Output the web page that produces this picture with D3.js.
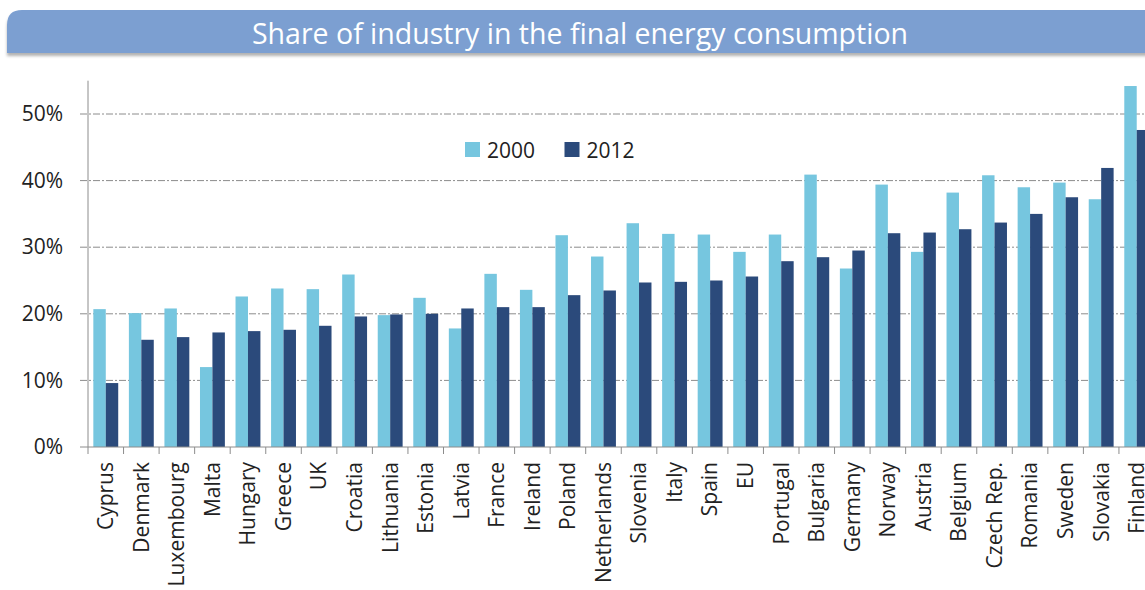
<!DOCTYPE html>
<html>
<head>
<meta charset="utf-8">
<script src="https://cdn.jsdelivr.net/npm/d3@7"></script>
<style>
  body { margin: 0; background: #fff; overflow: hidden; }
  text { font-family: "Open Sans", sans-serif; }
</style>
</head>
<body>
<script>
// countries, sorted by 2012 share
var countries = ["Cyprus", "Denmark", "Luxembourg", "Malta", "Hungary", "Greece", "UK", "Croatia",
  "Lithuania", "Estonia", "Latvia", "France", "Ireland", "Poland", "Netherlands", "Slovenia",
  "Italy", "Spain", "EU", "Portugal", "Bulgaria", "Germany", "Norway", "Austria", "Belgium",
  "Czech Rep.", "Romania", "Sweden", "Slovakia", "Finland"];

var years = ["2000", "2012"];

var share2000 = [20.7, 20.1, 20.8, 12.0, 22.6, 23.8, 23.7, 25.9, 19.8, 22.4, 17.8, 26.0, 23.6, 31.8,
  28.6, 33.6, 32.0, 31.9, 29.3, 31.9, 40.9, 26.8, 39.4, 29.3, 38.2, 40.8, 39.0, 39.7, 37.2, 54.2];

var share2012 = [9.6, 16.1, 16.5, 17.2, 17.4, 17.6, 18.2, 19.6, 19.9, 20.0, 20.8, 21.0, 21.0, 22.8,
  23.5, 24.7, 24.8, 25.0, 25.6, 27.9, 28.5, 29.5, 32.1, 32.2, 32.7, 33.7, 35.0, 37.5, 41.9, 47.6];

var yTicks = [0, 10, 20, 30, 40, 50];

var colors = ["#76c6df", "#2b4a7b"];

var width = 1145, height = 590;

var svg = d3.select("body").append("svg")
  .attr("width", width)
  .attr("height", height);

// title banner
var defs = svg.append("defs");
var f = defs.append("filter").attr("id", "shadow").attr("x", "-5%").attr("y", "-20%")
  .attr("width", "110%").attr("height", "160%");
f.append("feDropShadow").attr("dx", 0).attr("dy", 3).attr("stdDeviation", 1.5)
  .attr("flood-color", "#000").attr("flood-opacity", 0.3);

var bx = 7, by = 10, bw = 1150, bh = 43, r = 15;
svg.append("path")
  .attr("d", "M" + bx + "," + (by + bh) + "V" + (by + r) +
    "Q" + bx + "," + by + " " + (bx + r) + "," + by + "H" + (bx + bw) + "V" + (by + bh) + "Z")
  .attr("fill", "#7b9fd1")
  .attr("filter", "url(#shadow)");

svg.append("text")
  .attr("x", 580).attr("y", 44)
  .attr("text-anchor", "middle")
  .attr("fill", "#fff")
  .style("font-size", "28.5px")
  .text("Share of industry in the final energy consumption");

// scales
var x = d3.scaleBand().domain(countries).range([88, 88 + 30 * 35.55]).padding(0);
var xIn = d3.scaleBand().domain(years).range([x.bandwidth() * 0.15, x.bandwidth() * 0.85]);
var y = d3.scaleLinear().domain([0, 55]).range([447, 80.7]);

// gridlines
svg.append("g").selectAll("line")
  .data(yTicks.filter(function(d) { return d > 0; }))
  .join("line")
  .attr("x1", 80).attr("x2", width)
  .attr("y1", function(d) { return y(d); })
  .attr("y2", function(d) { return y(d); })
  .attr("stroke", "#8c8c8c")
  .attr("stroke-dasharray", "7,2,2,2");

// bars
var rows = countries.map(function(c, i) { return { c: c, v: [share2000[i], share2012[i]] }; });

var groups = svg.append("g").selectAll("g")
  .data(rows)
  .join("g")
  .attr("transform", function(d) { return "translate(" + x(d.c) + ",0)"; });

groups.selectAll("rect")
  .data(function(d) { return d.v.map(function(v, k) { return { yr: years[k], v: v, k: k }; }); })
  .join("rect")
  .attr("x", function(d) { return xIn(d.yr); })
  .attr("width", xIn.bandwidth())
  .attr("y", function(d) { return y(d.v); })
  .attr("height", function(d) { return y(0) - y(d.v); })
  .attr("fill", function(d) { return colors[d.k]; });

// y axis
var yAxis = svg.append("g")
  .attr("transform", "translate(88,0)")
  .call(d3.axisLeft(y).tickValues(yTicks).tickFormat(function(d) { return d + "%"; })
    .tickSize(8).tickPadding(17));
yAxis.select(".domain").attr("stroke", "#8c8c8c").attr("d", "M0," + y(55) + "V" + y(0));
yAxis.selectAll(".tick line").attr("stroke", "none");
yAxis.selectAll(".tick text").style("font-size", "21px").attr("fill", "#222");

// x axis
var xAxis = svg.append("g")
  .attr("transform", "translate(0," + y(0) + ")")
  .call(d3.axisBottom(x).tickSize(0).tickPadding(0));
xAxis.select(".domain").attr("stroke", "#8c8c8c").attr("d", "M80,0H" + width);
xAxis.selectAll(".tick text")
  .style("font-size", "21px")
  .attr("fill", "#222")
  .attr("transform", "rotate(-90)")
  .attr("text-anchor", "end")
  .attr("x", -15)
  .attr("y", 0)
  .attr("dy", "0.35em");

// boundary ticks between categories
svg.append("g").selectAll("line")
  .data(countries)
  .join("line")
  .attr("x1", function(d) { return x(d); })
  .attr("x2", function(d) { return x(d); })
  .attr("y1", y(0)).attr("y2", y(0) + 7)
  .attr("stroke", "#8c8c8c");

// legend
var legend = svg.append("g").selectAll("g")
  .data(years)
  .join("g")
  .attr("transform", function(d, i) { return "translate(" + (465 + i * 99.5) + ",142)"; });
legend.append("rect").attr("width", 15).attr("height", 15)
  .attr("fill", function(d, i) { return colors[i]; });
legend.append("text").attr("x", 22).attr("y", 15.5)
  .style("font-size", "21px").attr("fill", "#222")
  .text(function(d) { return d; });
</script>
</body>
</html>
